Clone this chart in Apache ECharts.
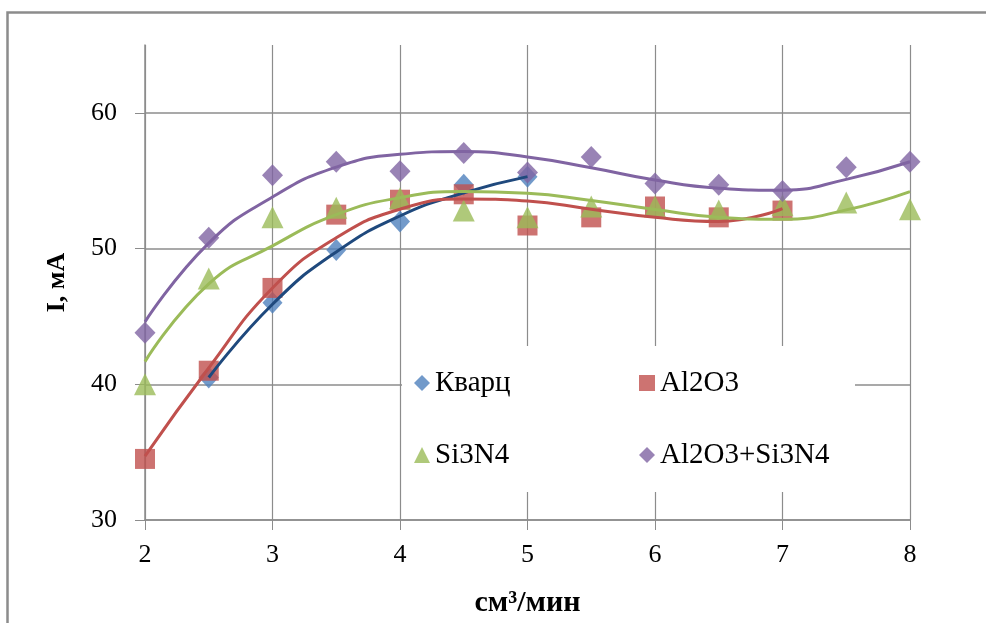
<!DOCTYPE html>
<html>
<head>
<meta charset="utf-8">
<script src="https://cdn.jsdelivr.net/npm/echarts@6/dist/echarts.min.js"></script>
<style>html,body{margin:0;padding:0;background:#fff}#c{width:986px;height:623px}</style>
</head>
<body>
<div id="c"></div>
<script>
// ---- data ----
const seriesNames = ['Кварц', 'Al2O3', 'Si3N4', 'Al2O3+Si3N4'];
const yTicks = [30, 40, 50, 60];
const xTicks = [2, 3, 4, 5, 6, 7, 8];

const kvarcX = [2.5, 3, 3.5, 4, 4.5, 5];
const kvarcY = [40.5, 46.0, 49.9, 52.0, 54.7, 55.3];
const al2o3X = [2, 2.5, 3, 3.5, 4, 4.5, 5, 5.5, 6, 6.5, 7];
const al2o3Y = [34.5, 41.0, 47.1, 52.5, 53.6, 54.0, 51.7, 52.3, 53.1, 52.3, 52.8];
const si3n4X = [2, 2.5, 3, 3.5, 4, 4.5, 5, 5.5, 6, 6.5, 7, 7.5, 8];
const si3n4Y = [40.0, 47.8, 52.3, 53.0, 53.7, 52.8, 52.3, 53.1, 53.1, 52.8, 53.2, 53.4, 52.9];
const mixX = [2, 2.5, 3, 3.5, 4, 4.5, 5, 5.5, 6, 6.5, 7, 7.5, 8];
const mixY = [43.8, 50.8, 55.4, 56.4, 55.7, 57.05, 55.6, 56.75, 54.8, 54.7, 54.25, 56.0, 56.4];

// trend curves as drawn in the reference
const kvarcTrendX = [2.5, 3, 3.5, 4, 4.5, 5];
const kvarcTrendY = [40.5, 45.9, 49.75, 52.4, 54.1, 55.3];
const al2o3TrendX = [2, 2.5, 3, 3.5, 4, 4.5, 5, 5.5, 6, 6.5, 7];
const al2o3TrendY = [34.7, 41.2, 47.1, 50.8, 52.9, 53.65, 53.5, 52.9, 52.3, 52.0, 52.95];
const si3n4TrendX = [2, 2.5, 3, 3.5, 4, 4.5, 5, 5.5, 6, 6.5, 7, 7.5, 8];
const si3n4TrendY = [41.67, 47.4, 50.2, 52.5, 53.75, 54.2, 54.08, 53.54, 52.88, 52.31, 52.16, 52.85, 54.2];
const mixTrendX = [2, 2.5, 3, 3.5, 4, 4.5, 5, 5.5, 6, 6.5, 7, 7.5, 8];
const mixTrendY = [44.6, 50.4, 53.8, 56.0, 56.95, 57.15, 56.75, 55.95, 55.05, 54.45, 54.3, 55.1, 56.4];

const zip = (xs, ys) => xs.map((x, i) => [x, ys[i]]);

const FONT = '"Liberation Serif", "Times New Roman", serif';
const colors = ['#4F81BD', '#C0504D', '#9BBB59', '#8064A2'];
const trendColors = ['#1F497D', '#C0504D', '#9BBB59', '#8064A2'];
const symbols = ['diamond', 'rect', 'triangle', 'diamond'];
const symbolSizes = [[20, 22], 20, 22, [21, 22]];
const pts = [zip(kvarcX, kvarcY), zip(al2o3X, al2o3Y), zip(si3n4X, si3n4Y), zip(mixX, mixY)];
const trends = [zip(kvarcTrendX, kvarcTrendY), zip(al2o3TrendX, al2o3TrendY), zip(si3n4TrendX, si3n4TrendY), zip(mixTrendX, mixTrendY)];

const series = [];
seriesNames.forEach((n, i) => {
  series.push({
    name: n, type: 'scatter', data: pts[i], symbol: symbols[i], symbolSize: symbolSizes[i],
    itemStyle: { color: colors[i] }, z: 3
  });
});
seriesNames.forEach((n, i) => {
  series.push({
    name: n + ' trend', type: 'line', data: trends[i], smooth: true, showSymbol: false, symbol: 'none',
    lineStyle: { color: trendColors[i], width: 3 }, z: 4, silent: true
  });
});

const legendPos = [[414, 367], [639, 367], [414, 439], [639, 439]];
const legends = seriesNames.map((n, i) => ({
  data: [n], left: legendPos[i][0], top: legendPos[i][1], padding: 0, z: 10,
  itemWidth: 16, itemHeight: 16, itemGap: 0,
  textStyle: { fontFamily: FONT, fontSize: 29, color: '#000', lineHeight: 32 }
}));

const chart = echarts.init(document.getElementById('c'), null, { renderer: 'canvas' });
chart.setOption({
  animation: false,
  backgroundColor: '#fff',
  grid: { left: 145, right: 76, top: 45, bottom: 103, containLabel: false, outerBoundsMode: 'none' },
  xAxis: {
    type: 'value', min: 2, max: 8, interval: 1,
    name: 'см³/мин', nameLocation: 'middle', nameGap: 68,
    nameTextStyle: { fontFamily: FONT, fontSize: 30, fontWeight: 'bold', color: '#000' },
    axisLine: { show: true, onZero: false, lineStyle: { color: '#8c8c8c', width: 1.5 } },
    axisTick: { show: true, inside: false, length: 10, lineStyle: { color: '#8c8c8c' } },
    axisLabel: { margin: 22, fontFamily: FONT, fontSize: 26, color: '#000' },
    splitLine: { show: true, lineStyle: { color: '#8c8c8c', width: 1.2 } }
  },
  yAxis: {
    type: 'value', min: 30, max: 65, interval: 10,
    name: 'I, мА', nameLocation: 'middle', nameGap: 75, nameRotate: 90,
    nameTextStyle: { fontFamily: FONT, fontSize: 26, fontWeight: 'bold', color: '#000' },
    axisLine: { show: true, lineStyle: { color: '#8c8c8c', width: 1.5 } },
    axisTick: { show: true, inside: false, length: 10, customValues: yTicks, lineStyle: { color: '#8c8c8c' } },
    axisLabel: { margin: 28, fontFamily: FONT, fontSize: 26, color: '#000', customValues: yTicks },
    splitLine: { show: true, lineStyle: { color: ['#8c8c8c', '#8c8c8c', '#8c8c8c', '#8c8c8c', 'rgba(0,0,0,0)'], width: 1.5 } }
  },
  legend: legends,
  graphic: [
    { type: 'rect', left: 5, top: 10, shape: { width: 1000, height: 700 }, style: { fill: 'none', stroke: '#8c8c8c', lineWidth: 2.5 }, z: 100, silent: true },
    { type: 'rect', left: 402, top: 346, shape: { width: 453, height: 146 }, style: { fill: '#fff' }, z: 2, silent: true }
  ],
  series: series
});
</script>
</body>
</html>
